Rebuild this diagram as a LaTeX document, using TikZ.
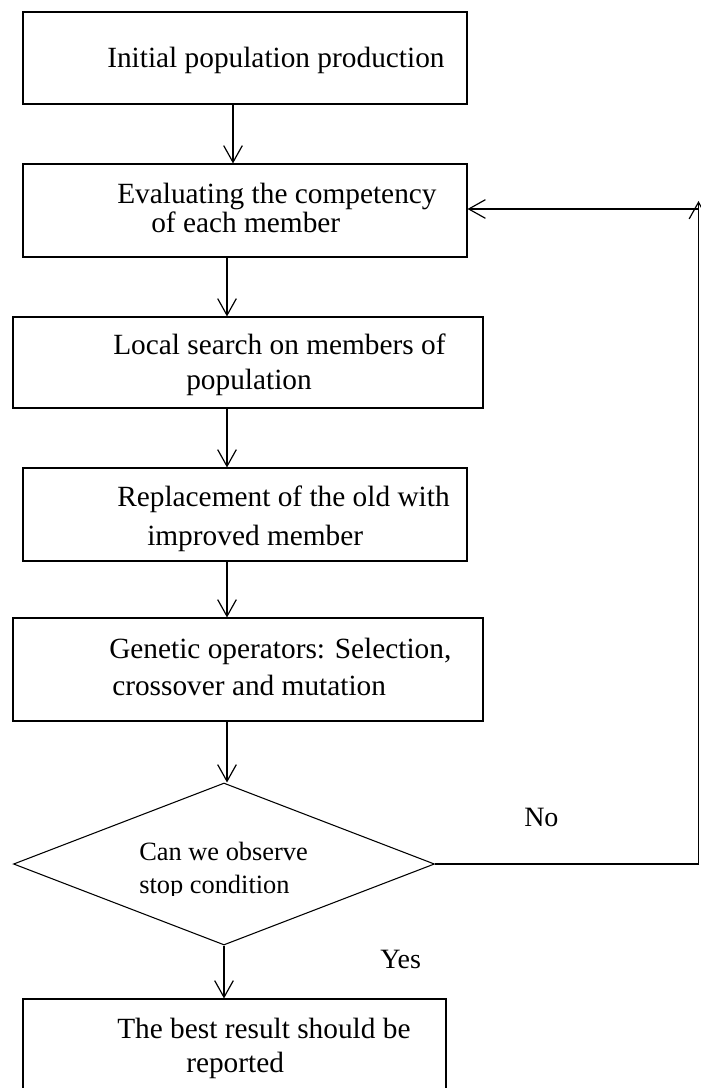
\documentclass[tikz,border=0pt]{standalone}
\usepackage{fontspec}
\setmainfont{Liberation Serif}
\usetikzlibrary{arrows.meta,shapes.geometric}
\begin{document}
\begin{tikzpicture}[x=0.75pt,y=-0.75pt,
  box/.style={draw, line width=0.8pt, rectangle, inner sep=0pt},
  decision/.style={draw, line width=0.8pt, diamond, inner sep=0pt, aspect=2.6},
  arr/.style={line width=0.9pt, -{Straight Barb[length=12.5pt,width=14pt]}},
  link/.style={line width=1pt},
  txt/.style={anchor=base west, inner sep=0pt, font=\fontsize{22}{26}\selectfont},
  dtxt/.style={anchor=base west, inner sep=0pt, font=\fontsize{19.8}{24}\selectfont},
  lbl/.style={anchor=base west, inner sep=0pt, font=\fontsize{21}{25}\selectfont}]

\useasboundingbox (0,0) rectangle (700,1088);

% process boxes
\node[box, minimum width=333pt,   minimum height=69pt]    (b1) at (245,58)    {};
\node[box, minimum width=333pt,   minimum height=69.75pt] (b2) at (245,210.5) {};
\node[box, minimum width=352.5pt, minimum height=68.25pt] (b3) at (248,362.5) {};
\node[box, minimum width=333pt,   minimum height=69.75pt] (b4) at (245,514.5) {};
\node[box, minimum width=352.5pt, minimum height=77.25pt] (b5) at (248,669.5) {};
\node[box, minimum width=317.25pt,minimum height=76.5pt]  (b6) at (234.5,1050) {};

% decision
\node[decision, minimum width=315.75pt, minimum height=121.5pt] (dec) at (224,864) {};

% box texts
\node[txt] (t1)  at (107,68)   {Initial population production};
\node[txt] (t2a) at (117,203)  {Evaluating the competency};
\node[txt] (t2b) at (151,232)  {of each member};
\node[txt] (t3a) at (113,354)  {Local search on members of};
\node[txt] (t3b) at (186,389)  {population};
\node[txt] (t4a) at (117,506)  {Replacement of the old with};
\node[txt] (t4b) at (147,545)  {improved member};
\node[txt] (t5a) at (109,658)  {Genetic operators: Selection,};
\node[txt] (t5b) at (112,695)  {crossover and mutation};
\node[txt] (t6a) at (117,1038) {The best result should be};
\node[txt] (t6b) at (186,1072) {reported};

% decision text
\node[dtxt] (dq1) at (139,860) {Can we observe};
\begin{scope}
  \clip (100,866) rectangle (330,895);
  \node[dtxt] (dq2) at (139,893.5) {stop condition};
\end{scope}

% branch labels
\node[lbl] (no)  at (524,826) {No};
\node[lbl] (yes) at (380,968) {Yes};

% main flow
\draw[arr] ([xshift=-9pt]b1.south) -- ([xshift=-9pt]b1.south |- b2.north);
\draw[arr] ([xshift=-13.5pt]b2.south) -- ([xshift=-13.5pt]b2.south |- b3.north);
\draw[arr] ([xshift=-15.75pt]b3.south) -- ([xshift=-15.75pt]b3.south |- b4.north);
\draw[arr] ([xshift=-13.5pt]b4.south) -- ([xshift=-13.5pt]b4.south |- b5.north);
\draw[arr] ([xshift=-15.75pt]b5.south) -- ([xshift=-15.75pt]b5.south |- dec.north);
\draw[arr] (dec.south) -- (dec.south |- b6.north);

% loop back when the stop condition is not met
\coordinate (bend) at (698.5,864);
\coordinate (rtop) at (698.5,201);
\coordinate (join) at (698.5,209);
\draw[link] (dec.east) -- (bend);
\draw[arr] (bend) -- (rtop);
\draw[arr] (join) -- (join -| b2.east);
\end{tikzpicture}
\end{document}
